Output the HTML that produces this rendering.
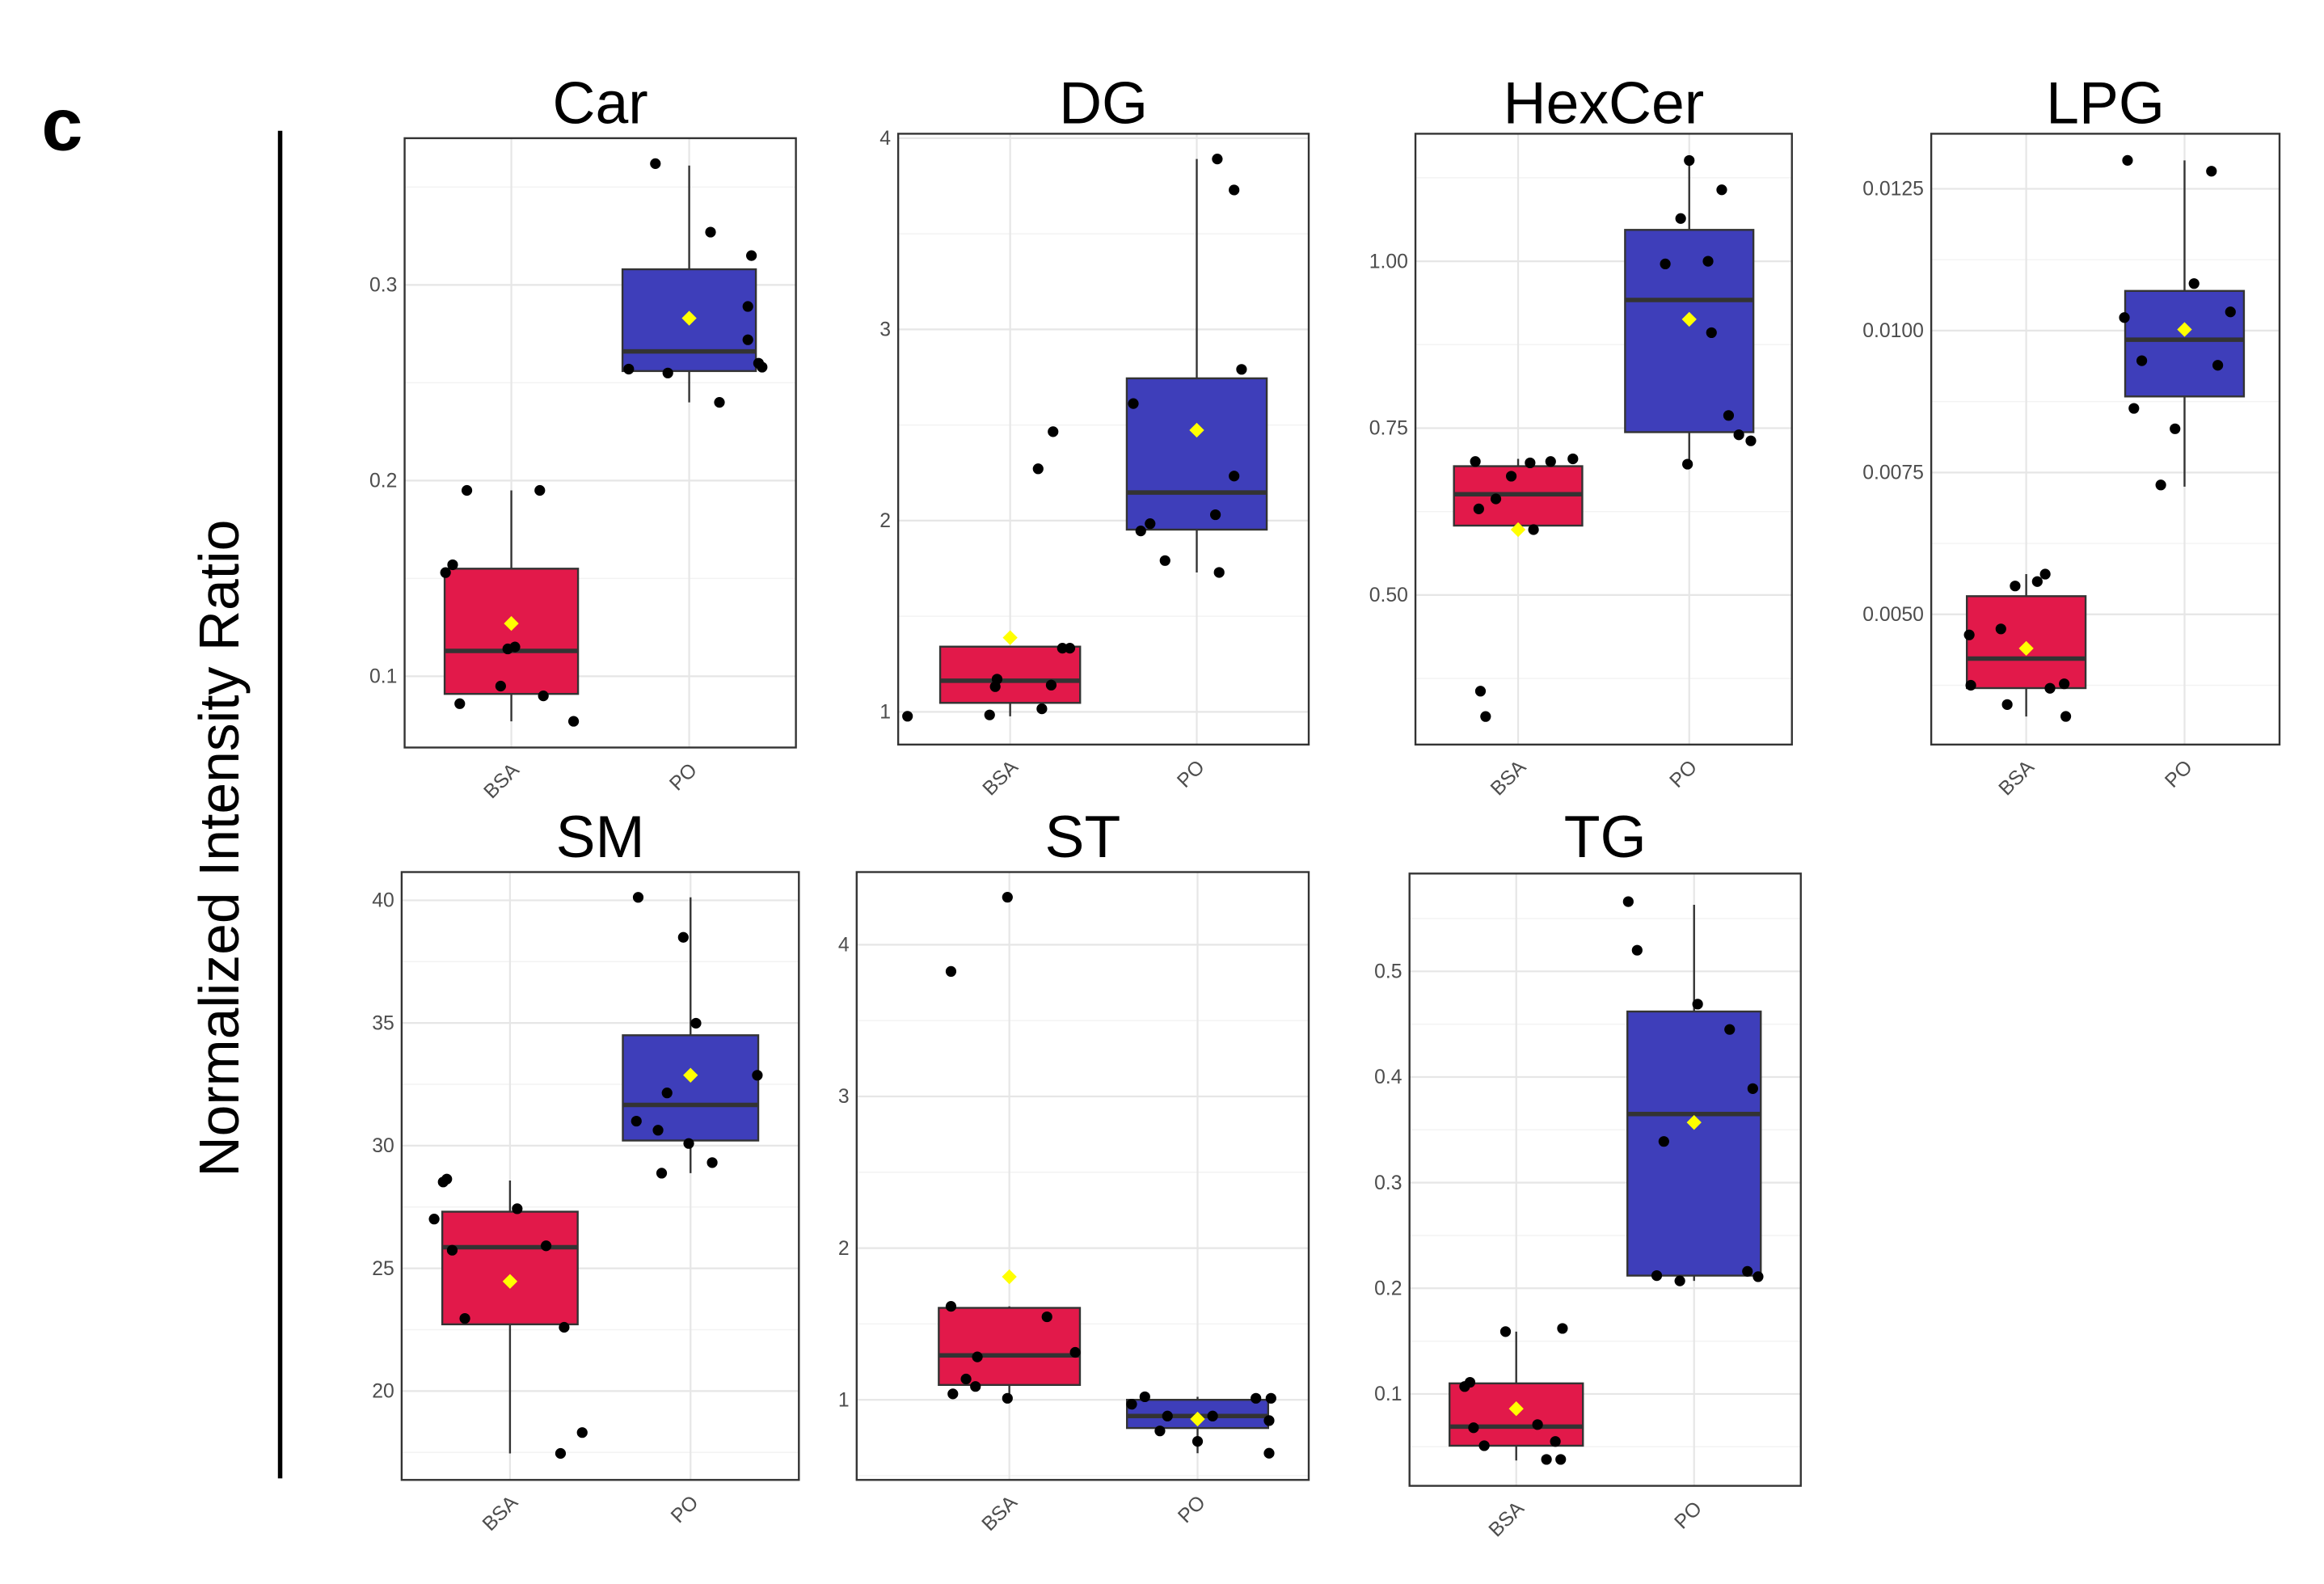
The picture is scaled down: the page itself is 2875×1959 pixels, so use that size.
<!DOCTYPE html>
<html><head><meta charset="utf-8">
<style>
html,body{margin:0;padding:0;background:#fff;}
svg{display:block;font-family:"Liberation Sans",Arial,sans-serif;}
</style></head>
<body>
<svg id="fig" width="2875" height="1959" viewBox="0 0 1568 1068" xmlns="http://www.w3.org/2000/svg">
<text x="28" y="101" font-size="50" font-weight="bold" fill="#000">c</text>
<line x1="189" y1="88" x2="189" y2="997" stroke="#000" stroke-width="3"/>
<text transform="translate(161,572) rotate(-90)" text-anchor="middle" font-size="38" fill="#000">Normalized Intensity Ratio</text>
<g id="panels"></g>
</svg>
<script>
const categories = ["BSA","PO"];
const panelNames = ["Car","DG","HexCer","LPG","SM","ST","TG"];
const yDomains = [[0.0636,0.375],[0.829,4.023],[0.276,1.191],[0.002705,0.01347],[16.38,41.15],[0.472,4.479],[0.013,0.5926]];
const yTicks = [[0.1,0.2,0.3],[1,2,3,4],[0.5,0.75,1.0],[0.005,0.0075,0.01,0.0125],[20,25,30,35,40],[1,2,3,4],[0.1,0.2,0.3,0.4,0.5]];
const yTickLabels = [["0.1","0.2","0.3"],["1","2","3","4"],["0.50","0.75","1.00"],["0.0050","0.0075","0.0100","0.0125"],["20","25","30","35","40"],["1","2","3","4"],["0.1","0.2","0.3","0.4","0.5"]];
const boxStats = [
 [[0.077,0.091,0.113,0.155,0.195,0.127],[0.240,0.256,0.266,0.308,0.361,0.283]],
 [[0.977,1.047,1.163,1.341,1.341,1.388],[1.729,1.953,2.147,2.744,3.891,2.473]],
 [[0.598,0.604,0.651,0.693,0.704,0.598],[0.696,0.744,0.942,1.047,1.151,0.913]],
 [[0.0032,0.0037,0.00422,0.00532,0.00571,0.0044],[0.00725,0.00884,0.00984,0.0107,0.013,0.01002]],
 [[17.46,22.72,25.86,27.31,28.58,24.47],[28.88,30.21,31.66,34.5,40.12,32.87]],
 [[1.01,1.098,1.293,1.606,1.616,1.811],[0.648,0.814,0.893,1.0,1.02,0.873]],
 [[0.037,0.051,0.069,0.11,0.159,0.086],[0.207,0.212,0.365,0.462,0.563,0.357]]
];
const pointsBSA = [
 [0.153,0.157,0.195,0.086,0.095,0.114,0.115,0.195,0.090,0.077],
 [0.977,0.984,1.132,1.171,1.016,1.140,1.333,1.333,2.271,2.465],
 [0.700,0.629,0.644,0.678,0.698,0.598,0.700,0.704,0.356,0.318],
 [0.004638,0.00375,0.004743,0.00341,0.005578,0.005709,0.003697,0.003776,0.003201,0.0055],
 [27.01,28.52,28.64,25.74,22.96,27.43,25.92,22.60,18.31,17.46],
 [3.824,4.313,1.616,1.547,1.313,1.283,1.137,1.088,1.039,1.010],
 [0.107,0.111,0.159,0.162,0.068,0.051,0.071,0.055,0.038,0.038]
];
const pointsPO = [
 [0.362,0.327,0.315,0.289,0.272,0.260,0.258,0.257,0.255,0.240],
 [2.612,1.984,1.946,1.791,2.031,2.233,2.791,3.891,3.729,1.729],
 [1.151,1.107,1.064,0.996,1.000,0.893,0.769,0.740,0.731,0.696],
 [0.013,0.01281,0.01083,0.01033,0.01023,0.00947,0.00939,0.00863,0.00827,0.00728],
 [40.12,38.49,34.99,32.87,32.15,31.00,30.63,30.09,28.88,29.31],
 [0.971,1.020,0.893,0.795,0.726,0.893,1.010,1.010,0.863,0.648],
 [0.566,0.520,0.469,0.445,0.389,0.339,0.216,0.211,0.212,0.207]
];
const jitterBSA = [
 [-0.37,-0.33,-0.25,-0.29,-0.06,-0.02,0.02,0.16,0.18,0.35],
 [-0.55,-0.11,-0.08,-0.07,0.17,0.22,0.28,0.32,0.15,0.23],
 [-0.25,-0.23,-0.13,-0.04,0.07,0.09,0.19,0.32,-0.22,-0.19],
 [-0.36,-0.35,-0.16,-0.12,0.07,0.12,0.15,0.24,0.25,-0.07],
 [-0.42,-0.37,-0.35,-0.32,-0.25,0.04,0.2,0.3,0.4,0.28],
 [-0.31,-0.01,-0.31,0.2,0.35,-0.17,-0.23,-0.18,-0.3,-0.01],
 [-0.29,-0.26,-0.06,0.26,-0.24,-0.18,0.12,0.22,0.17,0.25]
];
const jitterPO = [
 [-0.19,0.12,0.35,0.33,0.33,0.39,0.41,-0.34,-0.12,0.17],
 [-0.34,-0.25,-0.3,-0.17,0.1,0.2,0.24,0.11,0.2,0.12],
 [0,0.19,-0.05,-0.14,0.11,0.13,0.23,0.29,0.36,-0.01],
 [-0.36,0.17,0.06,0.29,-0.38,-0.27,0.21,-0.32,-0.06,-0.15],
 [-0.29,-0.04,0.03,0.37,-0.13,-0.3,-0.18,-0.01,-0.16,0.12],
 [-0.35,-0.28,-0.16,-0.2,0,0.08,0.31,0.39,0.38,0.38],
 [-0.37,-0.32,0.02,0.2,0.33,-0.17,0.3,0.36,-0.21,-0.08]
];
// layout: [left, top, right, bottom, titleY, optional category x positions]
const layout = [[273,93,537,504,83],[606,90,883,502,83],[955,90,1209,502,83],[1303,90,1538,502,83],[271,588,539,998,578],[578,588,883,998,578,[681,808]],[951,589,1215,1002,578]];
const fills = ["#e2194a","#3e3eba"];
const NS = "http://www.w3.org/2000/svg";
const root = document.getElementById("panels");
function mk(tag, attrs, parent){const e=document.createElementNS(NS,tag);for(const k in attrs)e.setAttribute(k,attrs[k]);parent.appendChild(e);return e;}

panelNames.forEach((name,p)=>{
  const [L,T,R,B,TY,CX] = layout[p];
  const [d0,d1] = yDomains[p];
  const y = v => B - (v-d0)/(d1-d0)*(B-T);
  const catW = CX ? (CX[1]-CX[0]) : (R-L)/2.2;
  const x = i => CX ? CX[i] : L + catW*(i+0.6);
  const g = mk("g",{},root);
  
  
  const bg = mk("rect",{x:L,y:T,width:R-L,height:B-T,fill:"#fff"},g);
  
  
  const tk = yTicks[p];
  const step = tk[1]-tk[0];
  for(let v=tk[0]-step*3; v<=tk[tk.length-1]+step*3; v+=step/2){
    const yy=y(v); if(yy<T||yy>B) continue;
    const major = Math.abs(((v-tk[0])/step)-Math.round((v-tk[0])/step))<0.01;
    const gl = mk("line",{x1:L,x2:R,y1:yy,y2:yy,stroke:major?"#e6e6e6":"#f3f3f3","stroke-width":major?1.2:0.8},g);
    
    
  }
  categories.forEach((c,i)=>{
    const vl = mk("line",{x1:x(i),x2:x(i),y1:T,y2:B,stroke:"#e6e6e6","stroke-width":1.2},g);
    
    
  });
  tk.forEach((v,k)=>{
    const t = mk("text",{x:L-5,y:y(v)+4.5,"text-anchor":"end","font-size":13.5,fill:"#4d4d4d"},g);
    t.textContent = yTickLabels[p][k];
    
    
  });
  categories.forEach((c,i)=>{
    const t = mk("text",{transform:`translate(${x(i)+6},${B+16}) rotate(-45)`,"text-anchor":"end","font-size":13.5,fill:"#4d4d4d"},g);
    t.textContent = c;
    
    
  });
  const title = mk("text",{x:(L+R)/2,y:TY,"text-anchor":"middle","font-size":40,fill:"#000"},g);
  title.textContent = name;
  
  
  categories.forEach((c,i)=>{
    const [wlo,q1,med,q3,whi,mean] = boxStats[p][i];
    const cx = x(i), bw = catW*0.75;
    const wl = mk("line",{x1:cx,x2:cx,y1:y(whi),y2:y(wlo),stroke:"#333","stroke-width":1.3},g);
    
    
    const bx = mk("rect",{x:cx-bw/2,y:y(q3),width:bw,height:y(q1)-y(q3),fill:fills[i],stroke:"#333","stroke-width":1.3},g);
    
    
    const md = mk("line",{x1:cx-bw/2,x2:cx+bw/2,y1:y(med),y2:y(med),stroke:"#333","stroke-width":3},g);
    
    
    const pts = i===0?pointsBSA[p]:pointsPO[p];
    const jit = i===0?jitterBSA[p]:jitterPO[p];
    pts.forEach((v,k)=>{
      const dot = mk("circle",{cx:cx+jit[k]*catW,cy:y(v),r:3.6,fill:"#000"},g);
      
      
    });
    const my = y(mean), s=5;
    const dm = mk("polygon",{points:`${cx},${my-s} ${cx+s},${my} ${cx},${my+s} ${cx-s},${my}`,fill:"#ffff00"},g);
    
    
  });
  const fr = mk("rect",{x:L,y:T,width:R-L,height:B-T,fill:"none",stroke:"#333","stroke-width":1.3},g);
  
  
});
</script>
</body></html>
